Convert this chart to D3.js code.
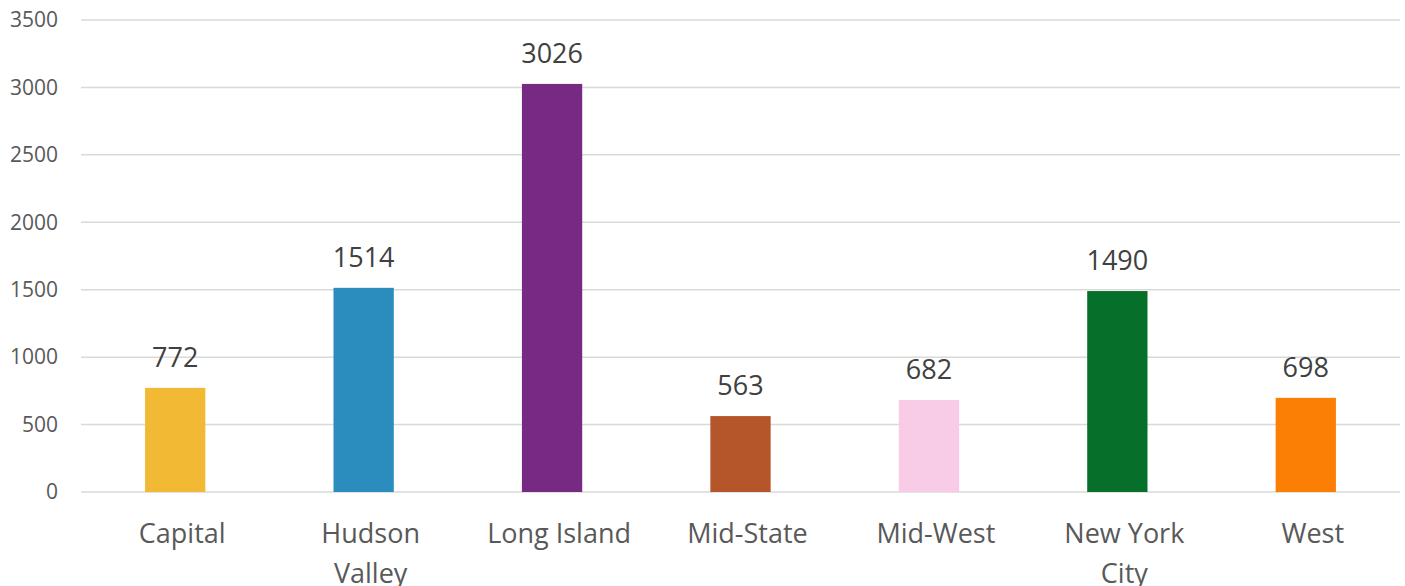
<!DOCTYPE html>
<html>
<head>
<meta charset="utf-8">
<script src="https://cdn.jsdelivr.net/npm/d3@7"></script>
<style>
	html, body { margin: 0; padding: 0; background: #ffffff; }
	svg { display: block; font-family: 'Open Sans', sans-serif; }
</style>
</head>
<body>
<div id="chart"></div>
<script>
// Chart data
const regions = ['Capital', 'Hudson Valley', 'Long Island', 'Mid-State', 'Mid-West', 'New York City', 'West'];
const counts = [772, 1514, 3026, 563, 682, 1490, 698];
const barColors = ['#F1B934', '#2B8CBE', '#762A83', '#B5562A', '#F8CBE6', '#066F2A', '#FB7F05'];
const yTicks = [0, 500, 1000, 1500, 2000, 2500, 3000, 3500];

const width = 1405,
	height = 586;
const margin = { top: 20, right: 5, bottom: 94, left: 81 };

const svg = d3.select('#chart').append('svg')
	.attr('width', width)
	.attr('height', height);

const x = d3.scaleBand()
	.domain(regions)
	.range([margin.left, width - margin.right])
	.paddingInner(0.68)
	.paddingOuter(0.34);

const y = d3.scaleLinear()
	.domain([0, 3500])
	.range([height - margin.bottom, margin.top]);

// Gridlines
svg.append('g')
	.selectAll('line')
	.data(yTicks)
	.enter()
	.append('line')
		.attr('x1', margin.left)
		.attr('x2', width - margin.right)
		.attr('y1', d => y(d))
		.attr('y2', d => y(d))
		.style('stroke', '#d9d9d9')
		.style('stroke-width', '1.5px');

// Y axis labels
svg.append('g')
	.selectAll('text')
	.data(yTicks)
	.enter()
	.append('text')
		.attr('x', 58)
		.attr('y', d => y(d))
		.attr('dy', '0.35em')
		.attr('text-anchor', 'end')
		.style('font-size', '21px')
		.style('fill', '#595959')
		.text(d => d);

// Bars
svg.append('g')
	.selectAll('rect')
	.data(regions)
	.enter()
	.append('rect')
		.attr('x', d => x(d))
		.attr('width', x.bandwidth())
		.attr('y', (d, i) => y(counts[i]))
		.attr('height', (d, i) => y(0) - y(counts[i]))
		.style('fill', (d, i) => barColors[i]);

// Value labels
svg.append('g')
	.selectAll('text')
	.data(regions)
	.enter()
	.append('text')
		.attr('x', d => x(d) + x.bandwidth() / 2)
		.attr('y', (d, i) => y(counts[i]) - 21)
		.attr('text-anchor', 'middle')
		.style('font-size', '27px')
		.style('fill', '#404040')
		.text((d, i) => counts[i]);

// Category labels, wrapped like Excel does (sit a bit right of the bar centre)
const catLabels = svg.append('g')
	.selectAll('text')
	.data(regions)
	.enter()
	.append('text')
		.attr('text-anchor', 'middle')
		.style('font-size', '27px')
		.style('fill', '#595959');

catLabels.each(function(d) {
	const cx = x(d) + x.bandwidth() / 2 + 7;
	const t = d3.select(this);
	const words = d.split(' ');
	let lines = [], line = [];
	words.forEach(w => {
		const test = line.concat(w).join(' ');
		t.text(test);
		if (this.getComputedTextLength() > 160 && line.length) {
			lines.push(line.join(' '));
			line = [w];
		} else {
			line.push(w);
		}
	});
	lines.push(line.join(' '));
	t.text(null);
	lines.forEach((l, i) => {
		t.append('tspan')
			.attr('x', cx)
			.attr('y', 543 + i * 40)
			.text(l);
	});
});
</script>
</body>
</html>
